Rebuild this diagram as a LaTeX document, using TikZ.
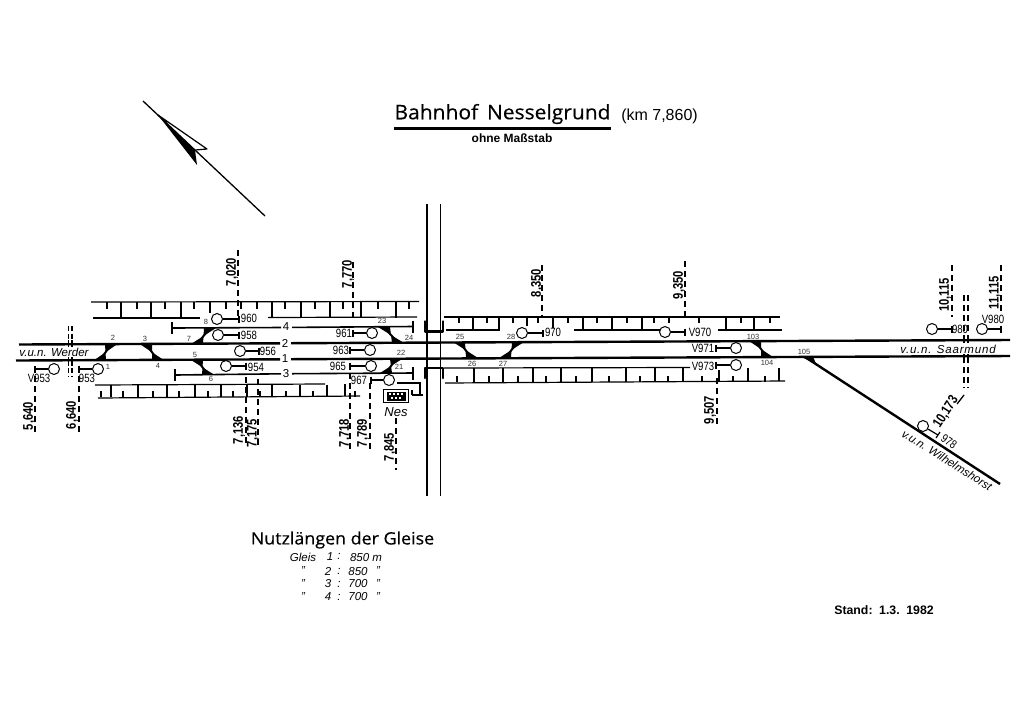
\documentclass[tikz,border=0pt]{standalone}
\usepackage{fontspec}
\setmainfont{Liberation Sans}
\newfontfamily\narrowf[FakeStretch=0.8]{Liberation Sans}
\newfontfamily\widef[FakeStretch=1.05,FakeBold=0.4]{Open Sans}
\newfontfamily\dirf[LetterSpace=7]{Liberation Sans}
\usetikzlibrary{calc}
\tikzset{
  track/.style={line width=2.4pt},
  thintrack/.style={line width=1.6pt},
  plat/.style={line width=1.2pt},
  tickline/.style={line width=1.1pt},
  road/.style={line width=1.4pt},
  bridge/.style={line width=2.8pt,line cap=round,line join=round},
  kmline/.style={line width=1.3pt,dash pattern=on 6pt off 4pt},
  bound/.style={line width=1.3pt},
  kmtext/.style={rotate=90,inner sep=0pt,font=\narrowf\bfseries\fontsize{14}{14}\selectfont},
  circ/.style={circle,draw,fill=white,line width=1pt,minimum size=11pt,inner sep=0pt},
  stem/.style={line width=1.2pt},
  siglab/.style={inner sep=0pt,font=\narrowf\fontsize{12}{12}\selectfont},
  numlab/.style={inner sep=0pt,font=\fontsize{7.5}{8}\selectfont,text=black!80},
  tracklab/.style={inner sep=0pt,font=\fontsize{11.5}{12}\selectfont},
  dirlab/.style={inner sep=0pt,font=\itshape\fontsize{11.5}{12}\selectfont},
  tablab/.style={inner sep=0pt,font=\itshape\fontsize{11.5}{12}\selectfont},
  xline/.style={line width=2pt}
}
\newcommand\sigh[7]{% name, cx, cy, tx, label, lx, ly
  \node[circ] (#1) at (#2,#3) {};
  \coordinate (#1-t) at (#4,#3);
  \draw[stem] (#1) -- (#1-t);
  \draw[stem] ($(#1-t)+(0,-3.5)$) -- ($(#1-t)+(0,3.5)$);
  \node[siglab] (#1-l) at (#6,#7) {#5};
}
\newcommand\kmmark[7]{% name, x, y1, y2, text, tx, ty
  \coordinate (#1-a) at (#2,#3);
  \coordinate (#1-b) at (#2,#4);
  \draw[kmline] (#1-a) -- (#1-b);
  \node[kmtext] (#1) at (#6,#7) {#5};
}
\newcommand\xo[5]{% name, x1, y1, x2, y2
  \coordinate (#1-a) at (#2,#3);
  \coordinate (#1-b) at (#4,#5);
  \draw[xline] (#1-a) -- (#1-b);
  \fill ($(#1-a)+(-6,0)$) -- ($(#1-a)+(6,0)$) -- ($(#1-a)!.5!(#1-b)$) -- cycle;
  \fill ($(#1-b)+(-6,0)$) -- ($(#1-b)+(6,0)$) -- ($(#1-b)!.5!(#1-a)$) -- cycle;
}
\newcommand\numl[4]{\node[numlab] (#1) at (#2,#3) {#4};}
\newcommand\boundary[1]{%
  \draw[kmline,dash pattern=on 5pt off 3pt] (#1,326) -- (#1,340);
  \draw[bound] (#1,340) -- (#1,347);
  \draw[bound] (#1,357) -- (#1,366);
  \draw[kmline,dash pattern=on 5pt off 3pt] (#1,368) -- (#1,377);
}
\newcommand\boundaryr[1]{%
  \draw[kmline] (#1,295) -- (#1,335);
  \draw[bound] (#1,335) -- (#1,343);
  \draw[bound] (#1,354) -- (#1,363);
  \draw[kmline] (#1,367) -- (#1,388);
}
\begin{document}
\begin{tikzpicture}[x=1pt,y=-1pt]
\useasboundingbox (0,0) rectangle (1024,724);

% title
\node[inner sep=0pt,font=\widef\fontsize{20}{22}\selectfont] (title) at (502.5,114) {Bahnhof\, Nesselgrund};
\coordinate (ula) at (394,128.5); \coordinate (ulb) at (611,128.5);
\draw[line width=2.2pt] (ula) -- (ulb);
\node[inner sep=0pt,font=\fontsize{16}{17}\selectfont] (kmpos) at (659.5,116) {(km 7,860)};
\node[inner sep=0pt,font=\bfseries\fontsize{12}{13}\selectfont] (scale) at (512,138.5) {ohne Maßstab};

% north arrow
\coordinate (na) at (143,101); \coordinate (nb) at (265,216);
\draw[line width=1.3pt] (na) -- (nb);
\draw[line width=1.2pt,fill=white,line join=round] (158,115) -- (207,149) -- (195,150) -- cycle;
\fill (158,115) -- (195,150) -- (197,165) -- cycle;

% road
\draw[road] (427,204) -- (427,496);
\draw[road] (440.5,204) -- (440.5,496);

% main tracks
\draw[track] (19,344.5) -- (280,343.3);
\draw[track] (291,343.2) -- (1010,340);
\draw[track] (16,360.5) -- (280,359.3);
\draw[track] (291,359.2) -- (1010,356);
% track 4 and 3
\draw[thintrack] (172,328) -- (281,327.5);
\draw[thintrack] (292,327.4) -- (413,326.5);
\draw[thintrack] (175,375) -- (281,373.8);
\draw[thintrack] (292,373.7) -- (413,373);
\draw[line width=1.8pt] (172,322) -- (172,334);
\draw[line width=1.8pt] (175,369) -- (175,381);
\draw[line width=1.5pt] (413,320.5) -- (413,333);
\draw[line width=1.5pt] (413,367) -- (413,380);
\node[tracklab] (t4) at (286,327) {4};
\node[tracklab] (t2) at (285,343) {2};
\node[tracklab] (t1) at (285,359) {1};
\node[tracklab] (t3) at (286,373.5) {3};

% bridge
\draw[bridge] (425,321.5) -- (425,331.5) -- (443,331.5) -- (443,321.5);
\draw[bridge] (425,378) -- (425,368) -- (443,368) -- (443,378);

% crossovers
\xo{xa}{111}{344.3}{100}{360.3}
\xo{xb}{146}{344.2}{158}{360.2}
\xo{xc}{210}{328}{197}{344}
\xo{xd}{197}{360}{208}{374.6}
\xo{xe}{384}{327}{398}{343}
\xo{xf}{396}{359}{386}{373}
\xo{xg}{459}{342}{472}{358}
\xo{xh}{518}{342}{505}{358}
\xo{xi}{755}{341}{767}{357}
\coordinate (ja) at (805,357); \coordinate (jb) at (1000,484);
\draw[line width=2.4pt] (ja) -- (jb);
\fill (801,356.8) -- (813,356.5) -- (816,364) -- cycle;

% upper left platform
\draw[plat] (91,302) -- (419,301.5);
\draw[plat] (93,318) -- (200,318);
\draw[plat] (268,317.5) -- (417,317);
\foreach \x in {121,151,181,272,301,330,361,396} \draw[tickline] (\x,302) -- (\x,317.5);
\draw[tickline] (210,302) -- (210,313);
\foreach \x in {107,137,165,194,226,241,257,285,315,343,378,409} \draw[tickline] (\x,302) -- (\x,309);

% lower left platform
\draw[plat] (95,385) -- (325,384);
\draw[plat] (98,398) -- (360,396);
\foreach \x in {111,138,167,195,221,247,272,300,327} \draw[tickline] (\x,384.5) -- (\x,397);
\draw[tickline] (345,384) -- (345,396);
\foreach \x in {101,123,153,179,208,233,260,286,313,355} \draw[tickline] (\x,397) -- (\x,391);
% small platform by the station
\draw[plat] (397,383) -- (420,383) -- (420,395);
\draw[plat] (412,395) -- (423,395);
\draw[tickline] (412,390) -- (412,395);

% upper right platform
\draw[plat] (444,317) -- (780,317);
\draw[plat] (446,330) -- (500,330);
\draw[plat] (574,330) -- (660,330);
\draw[plat] (718,330) -- (782,330);
\foreach \x in {473,499,583,612,642,726,754} \draw[tickline] (\x,317) -- (\x,330);
\draw[tickline] (527,317) -- (527,326);
\draw[tickline] (553,317) -- (553,328);
\foreach \x in {459,487,513,538,568,597,627,654,669,699,741,770} \draw[tickline] (\x,317) -- (\x,323);

% lower right platform
\draw[plat] (444,368) -- (690,367.5);
\draw[plat] (445,383) -- (785,381);
\foreach \x in {474,503,533,561,592,626,655,683} \draw[tickline] (\x,368) -- (\x,382);
\draw[tickline] (719,370) -- (719,381);
\foreach \x in {457,489,518,546,576,609,640,668,702,733,765} \draw[tickline] (\x,382) -- (\x,376);
\foreach \x in {748,779} \draw[tickline] (\x,381) -- (\x,368);

% boundary marks
\boundary{68.5}
\boundary{72}
\boundaryr{964}
\boundaryr{968}

% signals
\sigh{s953a}{54}{369}{35}{V953}{39}{378}
\sigh{s953b}{98}{369}{79}{953}{87}{378}
\sigh{s960}{217}{319}{239}{960}{249}{318}
\sigh{s958}{218}{335}{239}{958}{249}{335}
\sigh{s956}{240}{351}{259}{956}{268}{351}
\sigh{s954}{226}{366}{246}{954}{256}{367}
\sigh{s961}{372}{333}{353}{961}{344}{333}
\sigh{s963}{370}{350}{350}{963}{341}{350}
\sigh{s965}{371}{366}{350}{965}{338}{366}
\sigh{s967}{389}{380}{371}{967}{359}{380}
\sigh{s970}{522}{333}{543}{970}{553}{332}
\sigh{s970v}{665}{332}{685}{V970}{700}{332}
\sigh{s971}{736}{348}{716}{V971}{703}{348}
\sigh{s973}{736}{365}{716}{V973}{703}{366}
\sigh{s980}{932}{329}{952}{980}{960}{329}
\sigh{s980v}{982}{329}{1001}{V980}{993}{319}
% signal 978 on the branch
\node[circ] (s978) at (923,426) {};
\coordinate (s978-t) at (938,435);
\draw[stem] (s978) -- (s978-t);
\draw[stem] (936,438) -- (940,432);
\node[siglab,rotate=-35] (s978-l) at (949,442) {978};

% km marks
\kmmark{k5640}{35}{376}{433}{5,640}{29}{416}
\kmmark{k6640}{79}{376}{433}{6,640}{72}{415}
\kmmark{k7020}{238}{250}{318}{7,020}{232}{272}
\kmmark{k7770}{353}{262}{317}{7,770}{348}{274}
\kmmark{k7136}{246}{377}{443}{7,136}{239}{430}
\kmmark{k7175}{258}{379}{447}{7,175}{253}{433}
\kmmark{k7718}{350}{373}{452}{7,718}{345}{433}
\kmmark{k7789}{370}{383}{452}{7,789}{363}{433}
\kmmark{k7845}{396}{418}{470}{7,845}{390}{447}
\kmmark{k8350}{542}{265}{317}{8,350}{537}{283}
\kmmark{k9350}{685}{261}{317}{9,350}{679}{285}
\kmmark{k9507}{717}{378}{427}{9,507}{710}{410}
\kmmark{k10115}{952}{265}{317}{10,115}{945}{295}
\kmmark{k11115}{1001}{265}{315}{11,115}{995}{293}
\coordinate (k10173-a) at (957,404); \coordinate (k10173-b) at (964,395);
\draw[line width=1.3pt] (k10173-a) -- (k10173-b);
\node[kmtext,rotate=-33] (k10173) at (946,412) {10,173};

% turnout numbers
\numl{n2}{113}{338}{2} \numl{n3}{145}{339}{3} \numl{n7}{189}{339}{7}
\numl{n8}{206}{322}{8} \numl{n1}{108}{367}{1} \numl{n4}{158}{366}{4}
\numl{n5}{195}{355}{5} \numl{n6}{211}{379}{6}
\numl{n23}{382}{321}{23} \numl{n24}{409}{338}{24}
\numl{n22}{401}{353}{22} \numl{n21}{399}{367}{21}
\numl{n25}{460}{337}{25} \numl{n28}{511}{337}{28}
\numl{n26}{472}{364}{26} \numl{n27}{503}{364}{27}
\numl{n103}{753}{337}{103} \numl{n104}{767}{363}{104}
\numl{n105}{804}{352}{105}

% direction labels
\node[dirlab] (dw) at (54,352.5) {v.u.n. Werder};
\node[dirlab,font=\dirf\itshape\fontsize{11.5}{12}\selectfont] (ds) at (948,349) {v.u.n. Saarmund};
\node[dirlab,rotate=-32] (dh) at (947,460) {v.u.n. Wilhelmshorst};

% station sign
\node[draw,line width=1.6pt,minimum width=25pt,minimum height=13pt,inner sep=0pt] (nesbox) at (396,396) {};
\fill (386.5,391.5) rectangle (405.5,400.5);
\foreach \x in {389,393,397,401} \fill[white] (\x,393) rectangle +(2,2);
\foreach \x in {391,395,399} \fill[white] (\x,397) rectangle +(2,2);
\node[inner sep=0pt,font=\itshape\fontsize{13}{14}\selectfont] (nes) at (396,412) {Nes};

% table of lengths
\node[inner sep=0pt,font=\widef\fontsize{17}{19}\selectfont] (nl) at (342.5,540) {Nutzlängen der Gleise};
\node[tablab] (g0) at (303,557) {Gleis};
\node[tablab] (g1) at (330,557) {1};
\node[tablab] (g1c) at (339,556) {:};
\node[tablab] (g1v) at (366,558) {850 m};
\node[tablab] (g2q) at (303,571) {"};
\node[tablab] (g2) at (328,571) {2};
\node[tablab] (g2c) at (339,571) {:};
\node[tablab] (g2v) at (358,572) {850};
\node[tablab] (g2u) at (378,571) {"};
\node[tablab] (g3q) at (303,584) {"};
\node[tablab] (g3) at (328,584) {3};
\node[tablab] (g3c) at (339,584) {:};
\node[tablab] (g3v) at (358,584) {700};
\node[tablab] (g3u) at (378,584) {"};
\node[tablab] (g4q) at (303,597) {"};
\node[tablab] (g4) at (328,597) {4};
\node[tablab] (g4c) at (339,597) {:};
\node[tablab] (g4v) at (358,597) {700};
\node[tablab] (g4u) at (378,597) {"};

\node[inner sep=0pt,font=\bfseries\fontsize{12.3}{13}\selectfont] (stand) at (884,610) {Stand:\, 1.3.\, 1982};
\end{tikzpicture}
\end{document}
